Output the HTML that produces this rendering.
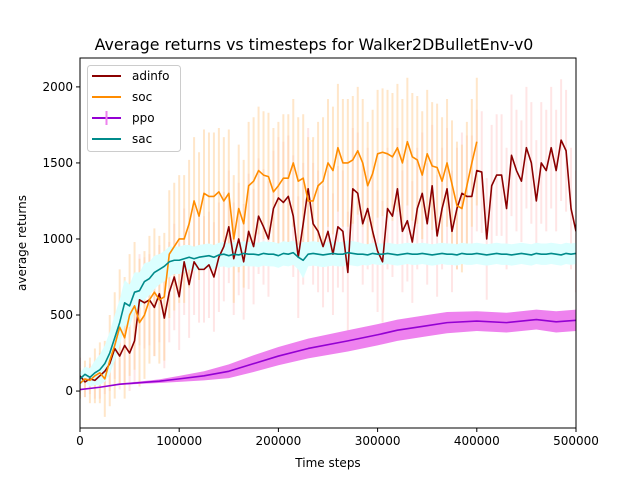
<!DOCTYPE html>
<html><head><meta charset="utf-8"><style>
body{margin:0;background:#fff;font-family:"Liberation Sans","DejaVu Sans",sans-serif}
svg text{font-family:"DejaVu Sans","Liberation Sans",sans-serif}
</style></head><body>
<svg id="c" width="640" height="480" xmlns="http://www.w3.org/2000/svg"></svg>
<script>
const adinfo=[100,60,80,70,100,130,180,280,230,300,250,330,600,
580,600,550,640,480,650,750,620,850,700,850,
800,800,830,750,880,950,1080,870,1000,850,1050,
950,1150,1080,1000,1200,1270,1240,1280,1150,880,1100,
1330,1100,1050,950,1050,900,1080,1050,780,1330,1300,
1100,1200,1050,920,850,1200,1150,1330,1050,1120,980,
1200,1300,1100,1350,1020,1200,1330,1050,1200,1300,1280,
1280,1450,1440,1000,1350,1420,1420,1200,1550,1450,1380,
1600,1500,1250,1500,1450,1600,1450,1650,1580,1200,1050];
const adinfoErr=[120,100,100,120,150,150,180,200,220,250,250,280,300,
300,300,320,320,330,330,350,350,350,350,350,
350,350,350,360,360,360,370,370,370,380,380,
380,380,380,380,380,400,400,400,400,400,400,
400,400,400,400,400,400,400,400,400,400,400,
400,400,400,400,400,400,400,400,400,400,400,
400,400,400,400,400,400,400,400,400,400,400,
400,400,400,400,400,400,400,400,400,400,400,
400,400,400,400,400,400,400,400,400,400,400];
const soc=[50,80,70,100,120,80,200,300,420,350,500,560,450,
500,600,650,600,620,900,950,1000,1000,1100,1250,
1150,1300,1280,1280,1310,1250,1300,1000,1200,1100,1350,
1380,1450,1420,1410,1310,1350,1400,1400,1500,1380,1400,
1250,1250,1350,1380,1500,1450,1600,1500,1500,1520,1580,
1500,1350,1430,1560,1570,1560,1540,1600,1500,1640,1540,
1520,1420,1560,1480,1470,1380,1500,1360,1220,1200,1350,
1500,1640];
const socErr=[100,120,150,180,200,250,300,350,380,400,400,420,420,
420,420,420,420,420,420,420,420,420,420,420,
420,420,420,420,420,420,420,420,420,420,420,
420,420,420,420,420,420,420,420,420,420,420,
420,420,420,420,420,420,420,420,420,420,420,
420,420,420,420,420,420,420,420,420,420,420,
420,420,420,420,420,420,420,420,420,420,420,
420,420];
const sac=[80,110,90,120,140,180,250,350,450,580,560,650,660,
720,740,780,800,820,850,860,860,870,880,870,
880,885,890,880,895,900,890,900,895,905,900,
900,895,905,900,900,890,905,900,910,880,860,
900,905,900,895,900,905,900,900,910,905,900,
900,895,905,900,900,905,900,895,900,905,900,
900,905,900,895,900,905,900,900,895,905,900,
900,905,900,895,900,905,900,900,895,900,905,
900,895,905,900,900,905,900,895,905,900,905];
const sacErr=[40,50,60,80,100,120,140,150,150,150,140,130,120,
120,110,110,100,100,100,90,90,90,80,80,
80,80,80,80,80,80,80,80,80,80,80,
80,80,80,80,80,80,80,80,80,80,120,
80,80,80,80,80,80,80,80,80,80,80,
70,70,70,70,70,70,70,70,70,70,70,
70,70,70,70,70,70,70,70,70,70,70,
70,70,70,70,70,70,70,70,70,70,70,
70,70,70,70,70,70,70,70,70,70,70];
const ppoX=[0,20000,40000,60000,80000,100000,125000,150000,175000,200000,230000,270000,300000,320000,350000,370000,400000,430000,460000,480000,500000];
const ppo=[10,25,45,55,65,80,100,130,180,230,280,330,370,400,430,450,460,450,470,455,465];
const ppoErr=[0,2,5,8,12,20,30,45,55,60,65,70,70,70,70,70,65,65,65,70,70];
const xTicks=[0,100000,200000,300000,400000,500000];
const yTicks=[0,500,1000,1500,2000];
const STEP=5000;

const L=80,R=576,T=58,B=428,Y0=-243,Y1=2190;
const sx=v=>L+(v/500000)*(R-L);
const sy=v=>B-(v-Y0)/(Y1-Y0)*(B-T);
const svg=document.getElementById('c');
const NS='http://www.w3.org/2000/svg';
function mk(tag,attrs,parent){const e=document.createElementNS(NS,tag);for(const k in attrs)e.setAttribute(k,attrs[k]);(parent||svg).appendChild(e);return e;}
const clip=mk('clipPath',{id:'pc'});mk('rect',{x:L,y:T,width:R-L,height:B-T},clip);
const plot=mk('g',{'clip-path':'url(#pc)'});



function errbars(vals,errs,color,name){
  const g=mk('g',{stroke:color,'stroke-width':2,opacity:0.55},plot);
  
  
  vals.forEach((v,i)=>{const x=sx(i*STEP);mk('line',{x1:x,x2:x,y1:sy(v-errs[i]),y2:sy(v+errs[i])},g);});
}
function band(xs,vals,errs,color,name){
  let d='M'+xs.map((x,i)=>sx(x)+','+sy(vals[i]+errs[i])).join('L');
  d+='L'+xs.map((x,i)=>sx(x)+','+sy(vals[i]-errs[i])).reverse().join('L')+'Z';
  const p=mk('path',{d:d,fill:color,stroke:'none'},plot);
  
  
}
function line(xs,vals,color,name){
  const p=mk('polyline',{points:xs.map((x,i)=>sx(x)+','+sy(vals[i])).join(' '),fill:'none',stroke:color,'stroke-width':1.6,'stroke-linejoin':'round'},plot);
  
  
}
const idx=a=>a.map((_,i)=>i*STEP);
errbars(adinfo,adinfoErr,'#ffd0d0','adinfo-errorbars');
errbars(soc,socErr,'#ffd29e','soc-errorbars');
band(idx(sac),sac,sacErr,'#dcffff','sac-band');
band(ppoX,ppo,ppoErr,'#ee82ee','ppo-band');
line(idx(adinfo),adinfo,'#8b0000','adinfo-line');
line(idx(soc),soc,'#ff8c00','soc-line');
line(ppoX,ppo,'#9400d3','ppo-line');
line(idx(sac),sac,'#008b8b','sac-line');

const fr=mk('rect',{x:L,y:T,width:R-L,height:B-T,fill:'none',stroke:'#000','stroke-width':1});


xTicks.forEach(v=>{const x=sx(v);mk('line',{x1:x,x2:x,y1:B,y2:B+4,stroke:'#000'});
  const t=mk('text',{x:x,y:B+17,'font-size':12,'text-anchor':'middle'});t.textContent=v;
  
  });
yTicks.forEach(v=>{const y=sy(v);mk('line',{x1:L-4,x2:L,y1:y,y2:y,stroke:'#000'});
  const t=mk('text',{x:L-7,y:y+4,'font-size':12,'text-anchor':'end'});t.textContent=v;
  
  });
</script>
<svg width="640" height="480" style="position:absolute;left:0;top:0" xmlns="http://www.w3.org/2000/svg">
<text x="314" y="50" font-size="15.8" text-anchor="middle" font-family="DejaVu Sans, Liberation Sans, sans-serif">Average returns vs timesteps for Walker2DBulletEnv-v0</text>
<text x="328" y="467" font-size="12" text-anchor="middle" font-family="DejaVu Sans, Liberation Sans, sans-serif">Time steps</text>
<text transform="translate(26,243) rotate(-90)" font-size="12" text-anchor="middle" font-family="DejaVu Sans, Liberation Sans, sans-serif">average returns</text>
<g font-size="12" font-family="DejaVu Sans, Liberation Sans, sans-serif">
<rect x="87.5" y="65.5" width="93" height="86" rx="3" fill="#fff" fill-opacity="0.8" stroke="#ccc"/>
<g><line x1="92" x2="121" y1="76" y2="76" stroke="#8b0000" stroke-width="2"/><text x="132" y="80">adinfo</text></g>
<g><line x1="92" x2="121" y1="97" y2="97" stroke="#ff8c00" stroke-width="2"/><text x="132" y="101">soc</text></g>
<g><line x1="92" x2="121" y1="118" y2="118" stroke="#9400d3" stroke-width="2"/><line x1="106.5" x2="106.5" y1="111" y2="125" stroke="#ee82ee" stroke-width="2"/><text x="132" y="122">ppo</text></g>
<g><line x1="92" x2="121" y1="139" y2="139" stroke="#008b8b" stroke-width="2"/><text x="132" y="143">sac</text></g>
</g>
</svg>
</body></html>
